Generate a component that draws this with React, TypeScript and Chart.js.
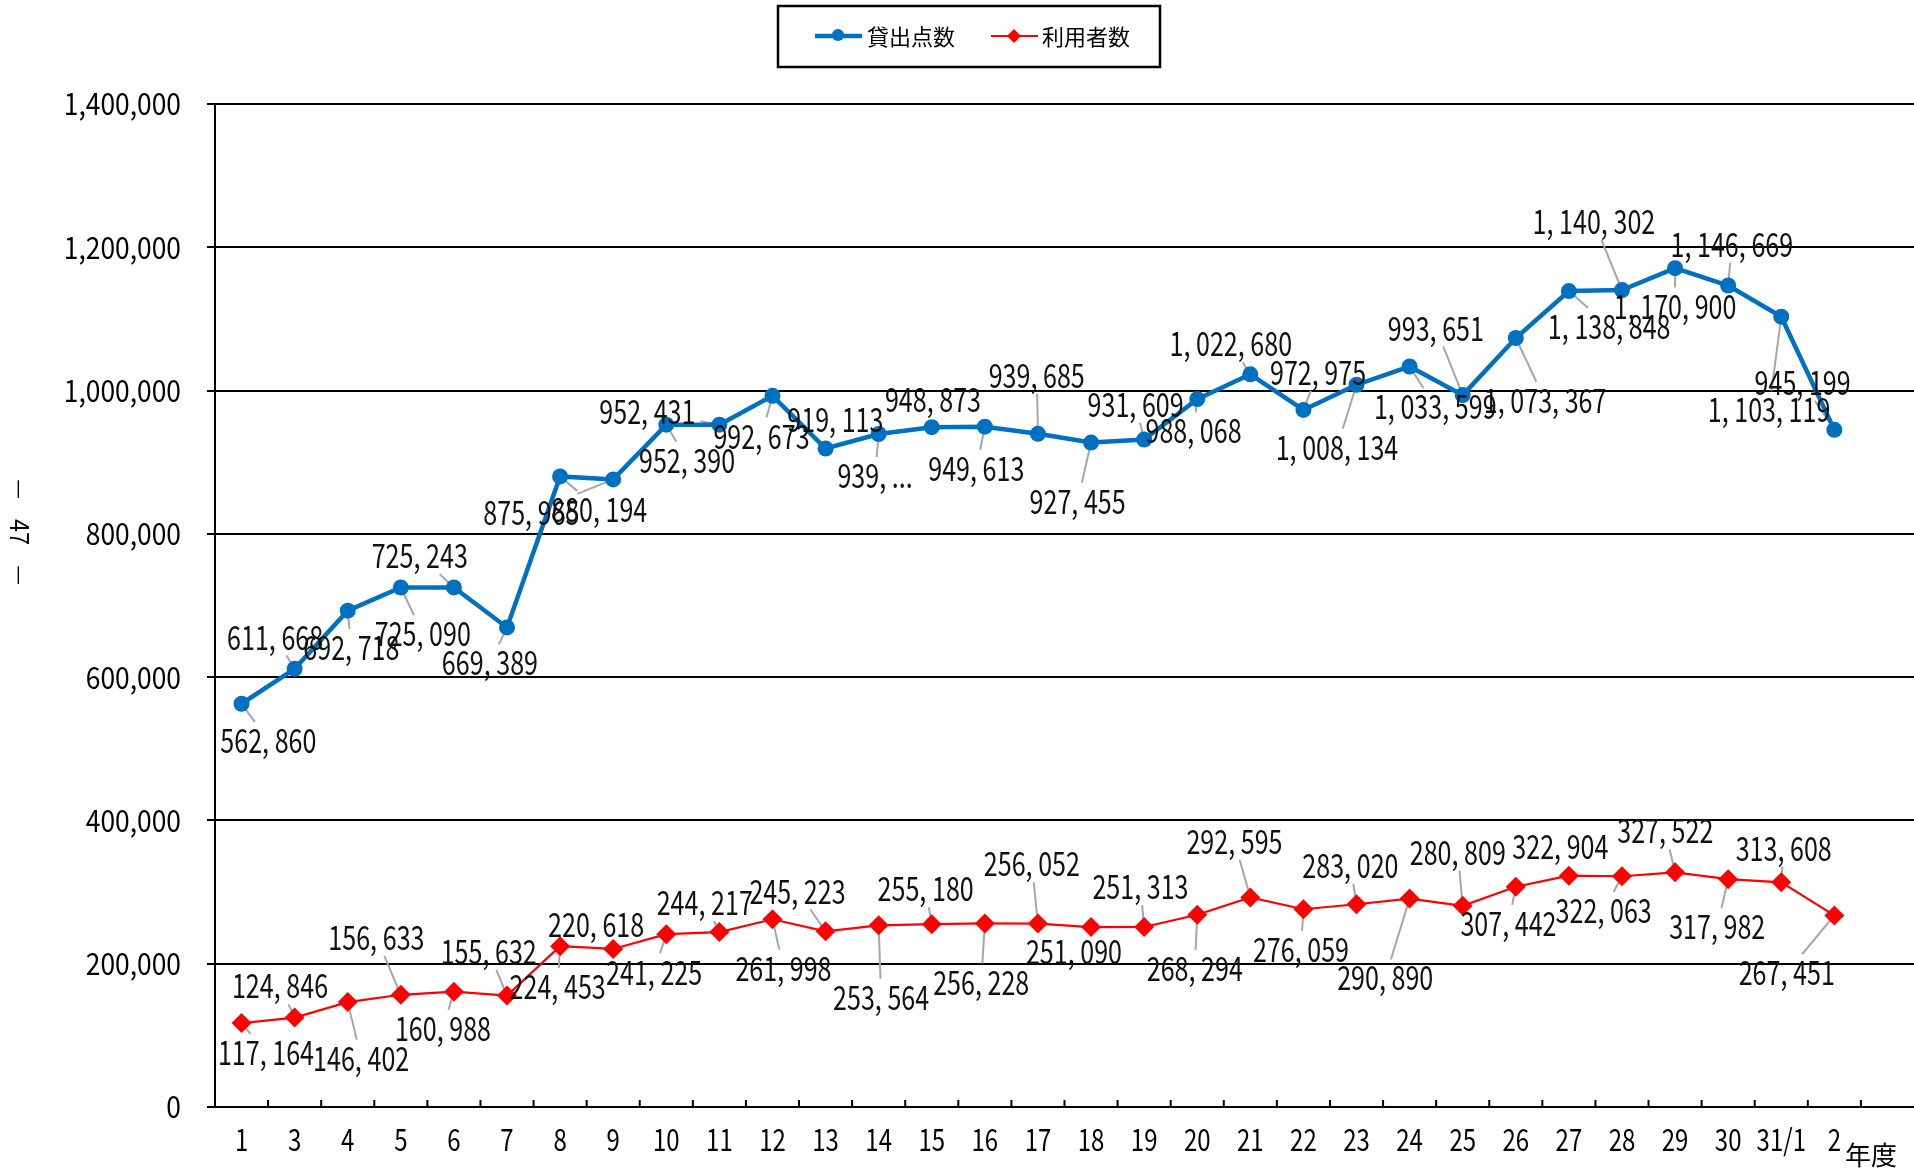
import React, { useEffect, useRef } from 'react';
import { Chart, registerables } from 'chart.js';

Chart.register(...registerables);

// ---- data ----
const categories = ['1', '3', '4', '5', '6', '7', '8', '9', '10', '11', '12', '13', '14', '15', '16', '17', '18', '19', '20', '21', '22', '23', '24', '25', '26', '27', '28', '29', '30', '31/1', '2', ''];
const loansLabel = '貸出点数';
const usersLabel = '利用者数';
const loans = [562860, 611668, 692718, 725090, 725243, 669389, 880194, 875965, 952390, 952431, 992673, 919113, 939400, 948873, 949613, 939685, 927455, 931609, 988068, 1022680, 972975, 1008134, 1033599, 993651, 1073367, 1138848, 1140302, 1170900, 1146669, 1103119, 945199];
const users = [117164, 124846, 146402, 156633, 160988, 155632, 224453, 220618, 241225, 244217, 261998, 245223, 253564, 255180, 256228, 256052, 251090, 251313, 268294, 292595, 276059, 283020, 290890, 280809, 307442, 322904, 322063, 327522, 317982, 313608, 267451];
const truncatedLoanLabels = [12];
const yMax = 1400000;
const yStep = 200000;
const xUnitLabel = '年度';
const pageNumber = '47';

// ---- label layout (offsets of label centre from its point) ----
const K = 1.2207;
const loanOffsets = [[22, 30], [-16, -26], [3, 30], [18, 38], [-28, -26], [-14, 29], [32, 27], [-67, 27], [17, 29], [-59, -11], [-9, 33], [8, -24], [-3, 34], [1, -23], [-7, 34], [-1, -48], [-11, 48], [-7, -29], [-3, 26], [-16, -25], [12, -31], [-16, 51], [21, 33], [-22, -55], [24, 51], [33, 29], [-23, -56], [0, 31], [3, -34], [-10, 76], [-26, -39]];
const userOffsets = [[20, 24], [-12, -26], [11, 46], [-20, -47], [-9, 30], [-15, -36], [-2, 33], [-14, -20], [-10, 31], [-12, -24], [9, 40], [-23, -33], [2, 59], [-5, -29], [-3, 48], [-5, -49], [-14, 20], [-3, -33], [-2, 44], [-13, -46], [-2, 33], [-5, -32], [-20, 65], [-4, -44], [-6, 30], [-7, -24], [-15, 28], [-8, -34], [-9, 39], [2, -28], [-39, 47]];

const BLUE = '#0070C0';
const RED = '#FF0000';
const FONT = '"Noto Sans CJK JP", "Noto Sans", sans-serif';

const LABEL_SIZE = 33;
const LABEL_SX = 0.76;

function fmtLabel(v: number, truncated: boolean): string {
  const s = v.toLocaleString('en-US').split(',').join(', ');
  if (truncated) return s.split(',')[0] + ', ...';
  return s;
}

function drawText(ctx: CanvasRenderingContext2D, text: string, x: number, y: number, size: number, sx: number, align: 'left' | 'center' | 'right', color = '#000') {
  ctx.save();
  ctx.font = `${size}px ${FONT}`;
  ctx.textBaseline = 'middle';
  ctx.textAlign = 'left';
  ctx.fillStyle = color;
  const w = ctx.measureText(text).width * sx;
  const left = align === 'center' ? x - w / 2 : align === 'right' ? x - w : x;
  ctx.translate(left, y);
  ctx.scale(sx, 1);
  ctx.fillText(text, 0, 0);
  ctx.restore();
  return w;
}

function labelBoxes(chart: any, dsIndex: number, values: number[], offsets: number[][], truncated: number[]) {
  const ctx: CanvasRenderingContext2D = chart.ctx;
  const meta = chart.getDatasetMeta(dsIndex);
  ctx.save();
  ctx.font = `${LABEL_SIZE}px ${FONT}`;
  const out = values.map((v, i) => {
    const el = meta.data[i];
    const text = fmtLabel(v, truncated.includes(i));
    const w = ctx.measureText(text).width * LABEL_SX;
    const cx = el.x + offsets[i][0] * K;
    const cy = el.y + offsets[i][1] * K;
    return { px: el.x, py: el.y, cx, cy, w, h: 25, text };
  });
  ctx.restore();
  return out;
}

const annotatePlugin = {
  id: 'annotate',
  beforeDatasetsDraw(chart: any) {
    const ctx: CanvasRenderingContext2D = chart.ctx;
    const all = [
      ...labelBoxes(chart, 0, loans, loanOffsets, truncatedLoanLabels),
      ...labelBoxes(chart, 1, users, userOffsets, []),
    ];
    ctx.save();
    ctx.strokeStyle = '#A6A6A6';
    ctx.lineWidth = 2;
    all.forEach((b) => {
      const hw = b.w / 2 + 5;
      const hh = b.h / 2 + 6;
      const dx = b.px - b.cx;
      const dy = b.py - b.cy;
      if (Math.abs(dx) <= hw && Math.abs(dy) <= hh) return;
      const tx = dx === 0 ? Infinity : hw / Math.abs(dx);
      const ty = dy === 0 ? Infinity : hh / Math.abs(dy);
      const t = Math.min(tx, ty);
      const ex = b.cx + dx * t;
      const ey = b.cy + dy * t;
      const d = Math.hypot(ex - b.px, ey - b.py);
      if (d > 12) {
        ctx.beginPath();
        ctx.moveTo(b.px, b.py);
        ctx.lineTo(ex, ey);
        ctx.stroke();
      }
    });
    ctx.restore();
  },
  afterDraw(chart: any) {
    const ctx: CanvasRenderingContext2D = chart.ctx;
    const xs = chart.scales.x;
    const ys = chart.scales.y;
    const area = chart.chartArea;

    // x tick marks (inside)
    ctx.save();
    ctx.strokeStyle = '#000';
    ctx.lineWidth = 2;
    for (let i = 1; i < categories.length; i++) {
      const x = (xs.getPixelForValue(i - 1) + xs.getPixelForValue(i)) / 2;
      ctx.beginPath();
      ctx.moveTo(x, area.bottom);
      ctx.lineTo(x, area.bottom - 7);
      ctx.stroke();
    }
    ctx.restore();

    // x labels
    categories.forEach((c, i) => {
      if (!c) return;
      drawText(ctx, c, xs.getPixelForValue(i), 1140, 30, 0.8, 'center');
    });
    drawText(ctx, xUnitLabel, 1871, 1155, 26, 1, 'center');

    // y labels
    ys.ticks.forEach((t: any) => {
      const y = ys.getPixelForValue(t.value);
      drawText(ctx, Number(t.value).toLocaleString('en-US'), 181, y, 30, 0.88, 'right');
    });

    // data labels
    const all = [
      ...labelBoxes(chart, 0, loans, loanOffsets, truncatedLoanLabels),
      ...labelBoxes(chart, 1, users, userOffsets, []),
    ];
    all.forEach((b) => drawText(ctx, b.text, b.cx, b.cy, LABEL_SIZE, LABEL_SX, 'center', '#111'));

    // legend
    ctx.save();
    ctx.fillStyle = '#fff';
    ctx.fillRect(778, 6, 382, 61);
    ctx.strokeStyle = '#000';
    ctx.lineWidth = 2.5;
    ctx.strokeRect(778, 6, 382, 61);
    ctx.strokeStyle = BLUE;
    ctx.lineWidth = 4.5;
    ctx.beginPath();
    ctx.moveTo(815, 36);
    ctx.lineTo(862, 36);
    ctx.stroke();
    ctx.fillStyle = BLUE;
    ctx.beginPath();
    ctx.arc(838, 35, 6, 0, Math.PI * 2);
    ctx.fill();
    ctx.strokeStyle = RED;
    ctx.lineWidth = 2.2;
    ctx.beginPath();
    ctx.moveTo(991, 36);
    ctx.lineTo(1038, 36);
    ctx.stroke();
    ctx.fillStyle = RED;
    ctx.beginPath();
    ctx.moveTo(1014, 29);
    ctx.lineTo(1021, 36);
    ctx.lineTo(1014, 43);
    ctx.lineTo(1007, 36);
    ctx.closePath();
    ctx.fill();
    ctx.restore();
    drawText(ctx, loansLabel, 867, 37, 22, 1, 'left');
    drawText(ctx, usersLabel, 1042, 37, 22, 1, 'left');

    // page number (rotated)
    ctx.save();
    ctx.translate(20, 532);
    ctx.rotate(Math.PI / 2);
    drawText(ctx, '—', -43, 0, 22, 1, 'center');
    drawText(ctx, pageNumber, 0, 0, 26, 0.9, 'center');
    drawText(ctx, '—', 43, 0, 22, 1, 'center');
    ctx.restore();
  },
};

export default function App() {
  const ref = useRef<HTMLCanvasElement | null>(null);
  useEffect(() => {
    if (!ref.current) return;
    const chart = new Chart(ref.current, {
      type: 'line',
      data: {
        labels: categories,
        datasets: [
          {
            label: loansLabel,
            data: loans,
            borderColor: BLUE,
            backgroundColor: BLUE,
            borderWidth: 4.5,
            pointStyle: 'circle',
            pointRadius: 8,
            pointBorderWidth: 0,
            pointBackgroundColor: BLUE,
            tension: 0,
          },
          {
            label: usersLabel,
            data: users,
            borderColor: RED,
            backgroundColor: RED,
            borderWidth: 2.2,
            pointStyle: 'rectRot',
            pointRadius: 10,
            pointBorderWidth: 0,
            pointBackgroundColor: RED,
            tension: 0,
          },
        ],
      },
      options: {
        animation: false,
        responsive: false,
        devicePixelRatio: 1,
        layout: { autoPadding: false, padding: { left: 207, top: 104, right: 0, bottom: 66 } },
        plugins: { legend: { display: false }, tooltip: { enabled: false } },
        scales: {
          x: {
            type: 'category',
            offset: true,
            grid: { display: false, drawTicks: false },
            border: { display: true, color: '#000', width: 2 },
            ticks: { display: false },
          },
          y: {
            min: 0,
            max: yMax,
            ticks: { stepSize: yStep, display: false },
            grid: { color: '#000', lineWidth: 2, drawTicks: true, tickLength: 8 },
            border: { display: true, color: '#000', width: 2 },
          },
        },
      },
      plugins: [annotatePlugin],
    });
    return () => chart.destroy();
  }, []);
  return (
    <div style={{ position: 'fixed', left: 0, top: 0, width: 1914, height: 1173, background: '#fff' }}>
      <canvas ref={ref} width={1914} height={1173} style={{ display: 'block', width: 1914, height: 1173 }} />
    </div>
  );
}
